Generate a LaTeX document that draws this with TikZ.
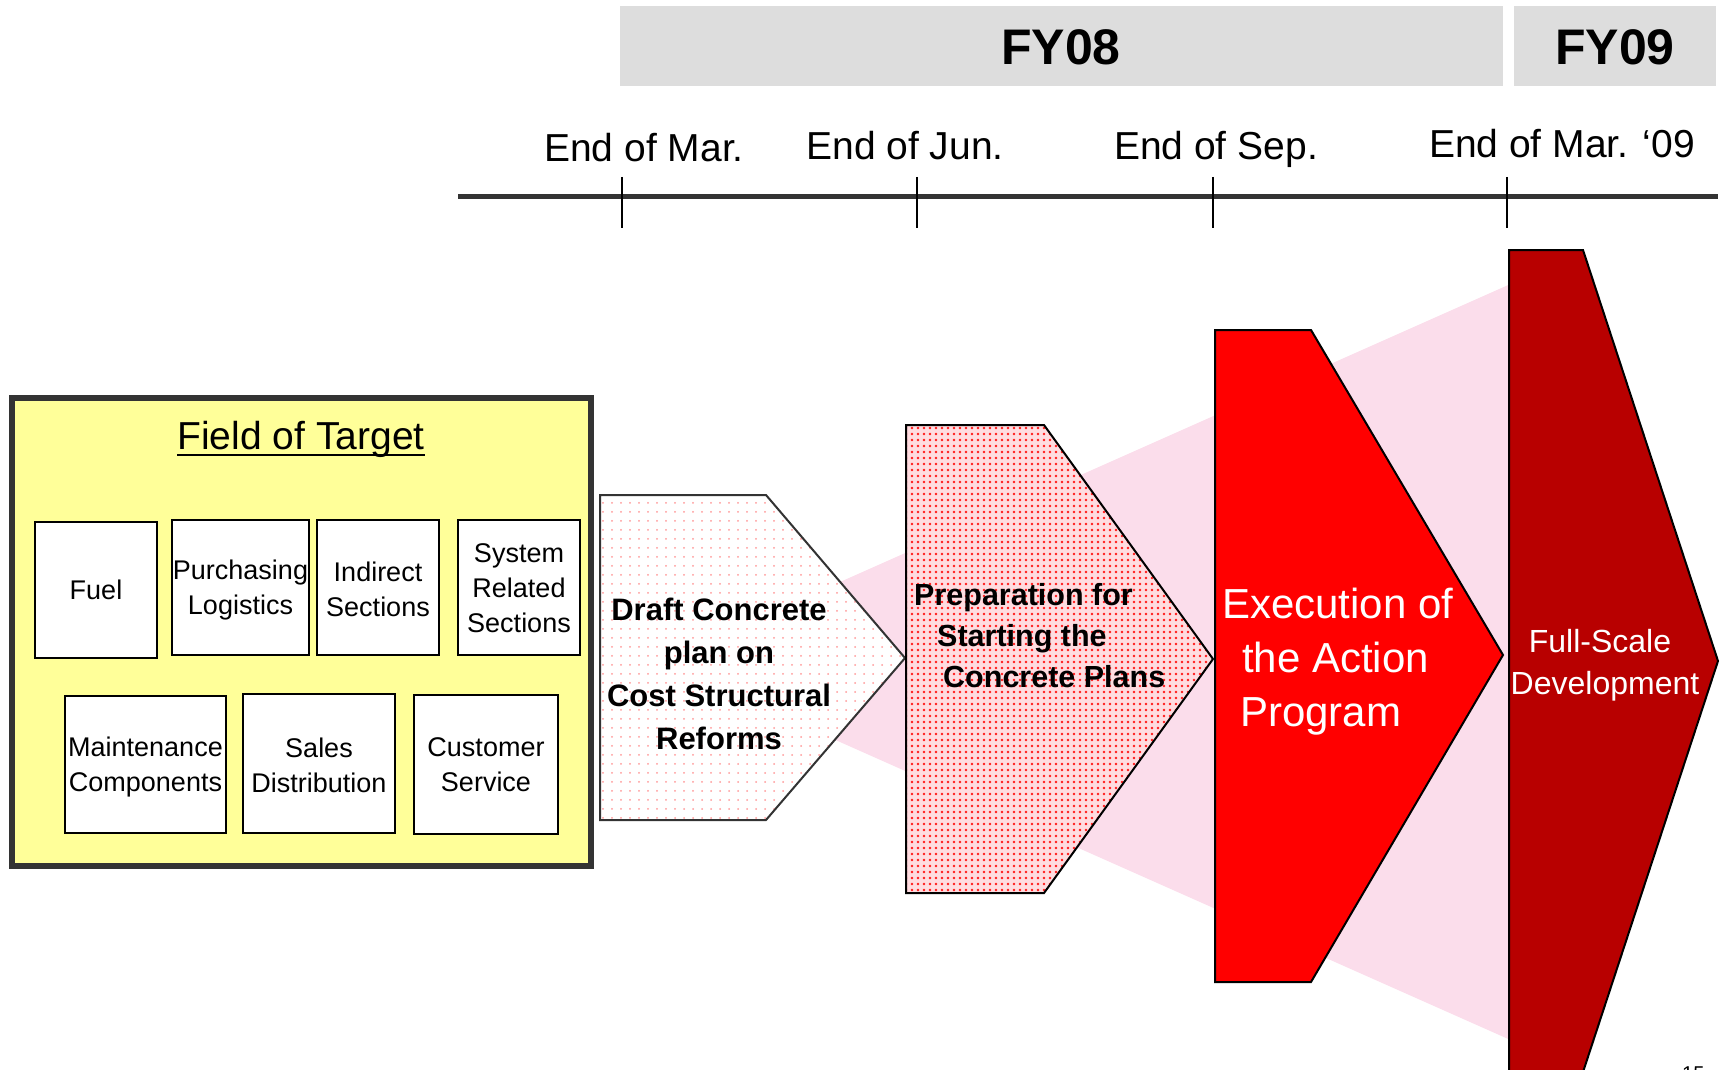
\documentclass[tikz,border=0pt]{standalone}
\usepackage{fontspec}
\setmainfont{Liberation Sans}
\usetikzlibrary{patterns.meta}
\definecolor{fyg}{HTML}{DDDDDD}
\definecolor{ylw}{HTML}{FFFF99}
\definecolor{dk}{HTML}{333333}
\definecolor{conepink}{RGB}{251,221,235}
\definecolor{dred}{HTML}{B80000}
\definecolor{prepbg}{RGB}{255,220,224}
\begin{document}
\begin{tikzpicture}[x=1pt,y=-1pt,
  fybar/.style={fill=fyg, draw=none},
  fytext/.style={font=\fontsize{50}{60}\selectfont\bfseries, inner sep=0},
  datelabel/.style={font=\fontsize{39}{46}\selectfont, anchor=base, inner sep=0},
  tickline/.style={line width=1.6, draw=black},
  fieldbox/.style={draw=black, line width=1.5, fill=white, inner sep=0},
  fieldtext/.style={font=\fontsize{27}{35}\selectfont, align=center, inner sep=0},
  stageline/.style={line width=2, draw=dk, line join=miter},
  draftfill/.style={preaction={fill=white}, pattern={Dots[distance=9pt,radius=1pt]}, pattern color=red!40},
  prepfill/.style={preaction={fill=prepbg}, pattern={Dots[distance=6pt,radius=1.3pt]}, pattern color=red!90},
  boldtext/.style={font=\fontsize{31}{43}\selectfont\bfseries, inner sep=0},
  whitetext/.style={text=white, inner sep=0}
]
\useasboundingbox (0,0) rectangle (1730,1070);

% year bars
\path[fybar] (620,6) rectangle (1503,86);
\path[fybar] (1514,6) rectangle (1716,86);
\node[fytext] (fy08) at (1061,47) {FY08};
\node[fytext] (fy09) at (1615,47) {FY09};

% timeline
\coordinate (tlL) at (458,196);
\coordinate (tlR) at (1718,196);
\draw[line width=5, draw=dk] (tlL) -- (tlR);
\foreach \x/\n in {622/a,917/b,1213/c,1507/d}{
  \coordinate (tt\n) at (\x,177);
  \coordinate (tb\n) at (\x,228);
  \draw[tickline] (tt\n) -- (tb\n);
}
\node[datelabel] (lmar) at (644,162) {End of Mar.};
\node[datelabel] (ljun) at (905,160) {End of Jun.};
\node[datelabel] (lsep) at (1216,160) {End of Sep.};
\node[datelabel] (lmarnine) at (1562,158) {End of Mar. ‘09};

% field of target
\draw[line width=6, draw=dk, fill=ylw] (12,398) rectangle (591,866);
\node[font=\fontsize{39}{46}\selectfont, anchor=base, inner sep=0] (fot) at (301,449) {Field of Target};
\draw[line width=2.5] ([yshift=-6pt]fot.base west) -- ([yshift=-6pt]fot.base east);

\node[fieldbox, minimum width=122, minimum height=136] (fuel) at (96,590) {};
\node[fieldtext] (fuelt) at (96,590) {Fuel};
\node[fieldbox, minimum width=137, minimum height=135] (purch) at (240.5,587.5) {};
\node[fieldtext] (purcht) at (240.5,590) {Purchasing\\Logistics};
\node[fieldbox, minimum width=122, minimum height=135] (indir) at (378,587.5) {};
\node[fieldtext] (indirt) at (378,589) {Indirect\\Sections};
\node[fieldbox, minimum width=122, minimum height=135] (syst) at (519,587.5) {};
\node[fieldtext] (systt) at (519,588.5) {System\\Related\\Sections};
\node[fieldbox, minimum width=161, minimum height=137] (maint) at (145.5,764.5) {};
\node[fieldtext] (maintt) at (145.5,767) {Maintenance\\Components};
\node[fieldbox, minimum width=152, minimum height=139] (sales) at (319,763.5) {};
\node[fieldtext] (salest) at (319,765) {Sales\\Distribution};
\node[fieldbox, minimum width=144, minimum height=139] (cust) at (486,764.5) {};
\node[fieldtext] (custt) at (486,765) {Customer\\Service};

% pink cone behind the stages
\fill[conepink] (660,662) -- (1515,282) -- (1515,1042) -- cycle;

% stage 1
\path[draftfill] (600,495) -- (766,495) -- (905,658) -- (766,820) -- (600,820) -- cycle;
\path[stageline, draw=dk] (600,495) -- (766,495) -- (905,658) -- (766,820) -- (600,820) -- cycle;
\node[boldtext, align=center] (draft) at (719,674) {Draft Concrete\\plan on\\Cost Structural\\Reforms};

% stage 2
\path[prepfill] (906,425) -- (1044,425) -- (1213,659) -- (1044,893) -- (906,893) -- cycle;
\path[stageline, draw=black] (906,425) -- (1044,425) -- (1213,659) -- (1044,893) -- (906,893) -- cycle;
\node[boldtext, font=\fontsize{30.5}{41}\selectfont\bfseries, align=left, anchor=west] (prep) at (914,636)
  {Preparation for\\\hspace*{23pt}Starting the\\\hspace*{29pt}Concrete Plans};

% stage 3
\path[stageline, draw=black, fill=red] (1215,330) -- (1311,330) -- (1503,655) -- (1311,982) -- (1215,982) -- cycle;
\node[whitetext, font=\fontsize{42}{54}\selectfont, align=left, anchor=west] (exec) at (1222,661.5)
  {Execution of\\\hspace*{20pt}the Action\\\hspace*{18pt}Program};

% stage 4
\path[stageline, draw=black, fill=dred] (1509,250) -- (1583,250) -- (1718,661) -- (1583,1072) -- (1509,1072) -- cycle;
\node[whitetext, font=\fontsize{32}{42}\selectfont, align=center] (full) at (1605,665)
  {\hspace*{-10pt}Full-Scale\\Development};

% page number fragment (cut by the page edge, as in the reference)
\begin{scope}
\clip (0,0) rectangle (1730,1070);
\node[font=\fontsize{20}{24}\selectfont, anchor=base west, inner sep=0] (pg) at (1682,1080) {15};
\end{scope}
\end{tikzpicture}
\end{document}
